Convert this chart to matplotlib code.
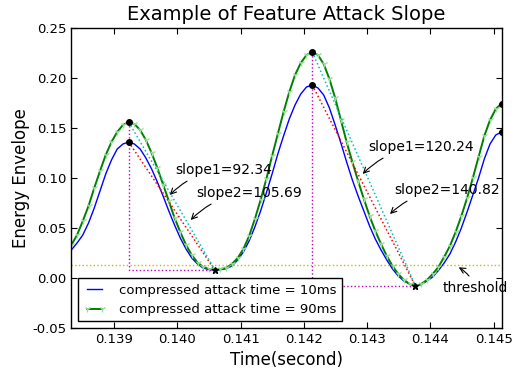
import numpy as np
import matplotlib
matplotlib.use('Agg')
import matplotlib.pyplot as plt
from matplotlib.ticker import FormatStrFormatter

# time axis: every 4th sample at 44.1 kHz
fs = 44100
samples = np.arange(6100, 6401, 4)
t = samples / float(fs)

# energy envelope, compressed attack time = 10ms
env_10ms = np.array([
    0.028, 0.035, 0.043, 0.055, 0.070, 0.087, 0.104, 0.118, 0.129, 0.134, 0.136,
    0.134, 0.129, 0.120, 0.109, 0.096, 0.082, 0.067, 0.053, 0.040, 0.029, 0.020,
    0.014, 0.010, 0.0084, 0.008,
    0.0082, 0.0094, 0.012, 0.018, 0.026, 0.037, 0.051, 0.067, 0.085, 0.104, 0.124,
    0.142, 0.159, 0.173, 0.184, 0.191, 0.193,
    0.190, 0.183, 0.170, 0.153, 0.135, 0.116, 0.098, 0.082, 0.067, 0.052, 0.039,
    0.028, 0.018, 0.009, 0.002, -0.003, -0.006, -0.008,
    -0.0065, -0.003, 0.001, 0.0075, 0.015, 0.024, 0.036, 0.050, 0.066, 0.083, 0.100,
    0.119, 0.134, 0.143, 0.146])

# energy envelope, compressed attack time = 90ms
env_90ms = np.array([
    0.033, 0.043, 0.057, 0.072, 0.090, 0.107, 0.123, 0.136, 0.146, 0.153, 0.156,
    0.154, 0.148, 0.138, 0.125, 0.110, 0.0935, 0.077, 0.060, 0.046, 0.033, 0.023,
    0.0155, 0.011, 0.009, 0.0085,
    0.009, 0.010, 0.014, 0.020, 0.029, 0.042, 0.059, 0.078, 0.099, 0.122, 0.144,
    0.166, 0.186, 0.203, 0.215, 0.223, 0.226,
    0.223, 0.214, 0.199, 0.180, 0.158, 0.136, 0.116, 0.097, 0.079, 0.062, 0.047,
    0.034, 0.022, 0.012, 0.004, -0.002, -0.006, -0.008,
    -0.006, -0.002, 0.004, 0.011, 0.021, 0.032, 0.046, 0.062, 0.080, 0.100, 0.121,
    0.142, 0.158, 0.169, 0.1745])

peak_idx = [10, 42, 75]
valley_idx = [25, 60]
threshold = 0.0127

slope_labels = ['slope1=92.34', 'slope2=105.69', 'slope1=120.24', 'slope2=140.82']

fig = plt.figure(figsize=(5.16, 3.69), dpi=100)
ax = fig.add_axes([0.1382, 0.1111, 0.8337, 0.8130])

ax.plot(t, env_10ms, color='b', lw=1.0, label='compressed attack time = 10ms')
ax.plot(t, env_90ms, color='g', lw=1.4, marker='1', ms=4.5, mew=1.0,
        mec=(0.6, 0.88, 0.6), label='compressed attack time = 90ms')

# threshold line
ax.axhline(threshold, color='y', ls=':', lw=1.0)

# slope lines from each peak down to the following valley
for p, v in zip(peak_idx[:2], valley_idx):
    ax.plot([t[p], t[p], t[v]], [env_90ms[p], env_90ms[v], env_90ms[v]],
            color='m', ls=':', lw=1.0)
    ax.plot([t[p], t[v]], [env_10ms[p], env_10ms[v]], color='r', ls=':', lw=1.1)
    ax.plot([t[p], t[v]], [env_90ms[p], env_90ms[v]], color='c', ls=':', lw=1.1)

ax.plot(t[peak_idx], env_10ms[peak_idx], 'ko', ms=4)
ax.plot(t[peak_idx], env_90ms[peak_idx], 'ko', ms=4)
ax.plot(t[valley_idx], env_90ms[valley_idx], 'k*', ms=5)

arrow = dict(arrowstyle='->', connectionstyle='arc3,rad=.2', color='k', lw=0.8)
ax.annotate(slope_labels[0], xy=(0.13985, 0.081), xytext=(0.13996, 0.108),
            fontsize=10, va='center', arrowprops=arrow)
ax.annotate(slope_labels[1], xy=(0.14018, 0.056), xytext=(0.14030, 0.085),
            fontsize=10, va='center', arrowprops=arrow)
ax.annotate(slope_labels[2], xy=(0.14290, 0.102), xytext=(0.14302, 0.131),
            fontsize=10, va='center', arrowprops=arrow)
ax.annotate(slope_labels[3], xy=(0.14333, 0.062), xytext=(0.14343, 0.088),
            fontsize=10, va='center', arrowprops=arrow)
ax.annotate('threshold', xy=(0.14441, 0.012), xytext=(0.14420, -0.010),
            fontsize=10, va='center', arrowprops=arrow)

ax.set_xlim(t[0], t[-1])
ax.set_ylim(-0.05, 0.25)
ax.set_xticks(np.round(np.arange(0.139, 0.1455, 0.001), 3))
ax.set_yticks(np.round(np.arange(-0.05, 0.251, 0.05), 2))
ax.xaxis.set_major_formatter(FormatStrFormatter('%.3f'))
ax.yaxis.set_major_formatter(FormatStrFormatter('%.2f'))
ax.tick_params(direction='in', top=True, right=True, length=4, labelsize=9.5)
for s in ax.spines.values():
    s.set_linewidth(1.0)

ax.set_title('Example of Feature Attack Slope', fontsize=14)
ax.set_xlabel('Time(second)', fontsize=12)
ax.set_ylabel('Energy Envelope', fontsize=12, labelpad=2)

leg = ax.legend(loc='lower left', fontsize=9.5, numpoints=2, fancybox=False,
                edgecolor='k', framealpha=1, borderaxespad=0.5,
                handlelength=1.7, handletextpad=1.0)
leg.get_frame().set_linewidth(1.0)

fig.savefig('out.png', dpi=100)
